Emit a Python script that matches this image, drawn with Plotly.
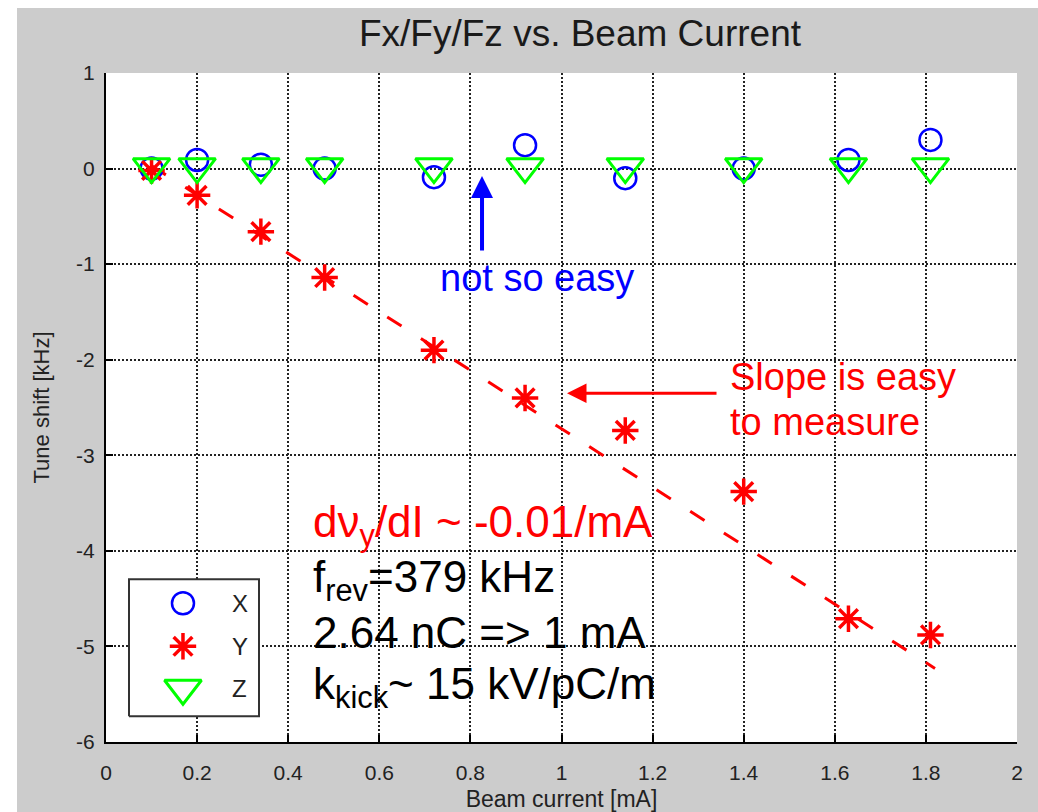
import plotly.graph_objects as go

# ---- data ----
current_mA = [0.10, 0.20, 0.34, 0.48, 0.72, 0.92, 1.14, 1.40, 1.63, 1.81]
shift_x = [0.00, 0.09, 0.04, 0.00, -0.09, 0.245, -0.10, 0.00, 0.09, 0.30]
shift_y = [-0.02, -0.28, -0.66, -1.14, -1.90, -2.40, -2.74, -3.38, -4.71, -4.88]
shift_z = [0.02, 0.02, 0.02, 0.02, 0.02, 0.02, 0.02, 0.02, 0.02, 0.02]
fit_x = [0.10, 1.82]
fit_y = [0.03, -5.23]

x_ticks = [0, 0.2, 0.4, 0.6, 0.8, 1.0, 1.2, 1.4, 1.6, 1.8, 2.0]
x_tick_text = ["0", "0.2", "0.4", "0.6", "0.8", "1", "1.2", "1.4", "1.6", "1.8", "2"]
y_ticks = [-6, -5, -4, -3, -2, -1, 0, 1]
y_tick_text = ["-6", "-5", "-4", "-3", "-2", "-1", "0", "1"]

legend_names = ["X", "Y", "Z"]
legend_pos_y = [0.2074, 0.1431, 0.0803]   # fractions of the plot area (overlay axis)
legend_sym_x = 0.0845
legend_txt_x = 0.147
legend_box_x = [(129 - 106) / 911, (259 - 106) / 911]
legend_box_y = [(741.7 - 716) / 668.7, (741.7 - 579) / 668.7]

FONT = "Liberation Sans, Arial, Helvetica, sans-serif"
BLUE = "#0000ff"
RED = "#ff0000"
GREEN = "#00ff00"

fig = go.Figure()

fig.add_trace(go.Scatter(
    x=fit_x, y=fit_y, mode="lines",
    line=dict(color=RED, width=3, dash="17px,23px"),
    showlegend=False, hoverinfo="skip"))

fig.add_trace(go.Scatter(
    x=current_mA, y=shift_x, mode="markers", name="X",
    marker=dict(symbol="circle-open", size=22, color=BLUE,
                line=dict(color=BLUE, width=2.5)),
    showlegend=False))
fig.add_trace(go.Scatter(
    x=current_mA, y=shift_y, mode="markers", name="Y",
    marker=dict(symbol="asterisk-open", size=22, color=RED,
                line=dict(color=RED, width=3.5)),
    showlegend=False))
fig.add_trace(go.Scatter(
    x=current_mA, y=shift_z, mode="markers", name="Z",
    marker=dict(symbol="triangle-down-open", size=32, color=GREEN,
                line=dict(color=GREEN, width=3)),
    showlegend=False))

# ---- hand-drawn legend on an overlay axis spanning the plot area ----
bx0, bx1 = legend_box_x
by0, by1 = legend_box_y
fig.add_trace(go.Scatter(
    x=[bx0, bx1, bx1, bx0, bx0], y=[by0, by0, by1, by1, by0],
    mode="lines", fill="toself", fillcolor="white",
    line=dict(color="#333333", width=2),
    xaxis="x2", yaxis="y2", showlegend=False, hoverinfo="skip"))

legend_symbols = ["circle-open", "asterisk-open", "triangle-down-open"]
legend_colors = [BLUE, RED, GREEN]
legend_sizes = [22, 22, 32]
legend_widths = [2.5, 3.5, 3]
for nm, sym, col, sz, lw, yy in zip(legend_names, legend_symbols, legend_colors,
                                    legend_sizes, legend_widths, legend_pos_y):
    fig.add_trace(go.Scatter(
        x=[legend_sym_x], y=[yy], mode="markers", xaxis="x2", yaxis="y2",
        marker=dict(symbol=sym, size=sz, color=col, line=dict(color=col, width=lw)),
        showlegend=False, hoverinfo="skip"))

shapes = [
    # white strips at left and top edge of the picture
    dict(type="rect", xref="paper", yref="paper", x0=-0.2, x1=(17 - 106) / 911,
         y0=-0.2, y1=1.3, fillcolor="white", line=dict(width=0), layer="below"),
    dict(type="rect", xref="paper", yref="paper", x0=-0.2, x1=1.2,
         y0=(741.7 - 8) / 668.7, y1=1.3, fillcolor="white", line=dict(width=0), layer="below"),
]

annotations = []
for nm, yy in zip(legend_names, legend_pos_y):
    annotations.append(dict(xref="paper", yref="paper", x=legend_txt_x, y=yy,
                            text=nm, showarrow=False, xanchor="center", yanchor="middle",
                            font=dict(family=FONT, size=24, color="#222222")))

# arrows
annotations.append(dict(x=0.8255, y=-0.079, ax=0.8255, ay=-0.874, axref="x", ayref="y",
                        xref="x", yref="y", text="", showarrow=True, arrowhead=2,
                        arrowsize=1.1, arrowwidth=4, arrowcolor=BLUE, standoff=0))
annotations.append(dict(x=1.012, y=-2.351, ax=1.3436, ay=-2.351, axref="x", ayref="y",
                        xref="x", yref="y", text="", showarrow=True, arrowhead=2,
                        arrowsize=1.3, arrowwidth=3, arrowcolor=RED, standoff=0))

annotations.append(dict(x=0.946, y=-1.15, xref="x", yref="y", text="not so easy",
                        showarrow=False, xanchor="center", yanchor="middle",
                        font=dict(family=FONT, size=38, color=BLUE)))
annotations.append(dict(x=1.3655, y=-2.18, xref="x", yref="y", text="Slope is easy",
                        showarrow=False, xanchor="left", yanchor="middle",
                        font=dict(family=FONT, size=38, color=RED)))
annotations.append(dict(x=1.3655, y=-2.65, xref="x", yref="y", text="to measure",
                        showarrow=False, xanchor="left", yanchor="middle",
                        font=dict(family=FONT, size=38, color=RED)))

text_lines = [
    ("d\u03bd<sub>y</sub>/dI ~ -0.01/mA", RED, -3.73),
    ("f<sub>rev</sub>=379 kHz", "black", -4.31),
    ("2.64 nC =&gt; 1 mA", "black", -4.85),
    ("k<sub>kick</sub>~ 15 kV/pC/m", "black", -5.42),
]
for txt, col, yy in text_lines:
    annotations.append(dict(x=0.450, y=yy, xref="x", yref="y", text=txt,
                            showarrow=False, xanchor="left", yanchor="middle",
                            font=dict(family=FONT, size=44, color=col)))

axis_common = dict(
    showgrid=True, gridcolor="#222222", gridwidth=1.5, griddash="2px,2px",
    zeroline=False, showline=True, linecolor="black", linewidth=2,
    ticks="inside", ticklen=7, tickwidth=1.5, tickcolor="black",
    tickfont=dict(family=FONT, size=21, color="#222222"), mirror=False,
    automargin=False,
)

fig.update_layout(
    width=1038, height=812,
    margin=dict(l=106, r=21, t=73, b=70),
    paper_bgcolor="#cccccc", plot_bgcolor="white",
    title=dict(text="Fx/Fy/Fz vs. Beam Current", x=580 / 1038, xref="container",
               xanchor="center", y=1 - 33 / 812, yanchor="middle",
               font=dict(family=FONT, size=37, color="#1a1a1a")),
    xaxis=dict(range=[0, 2], tickvals=x_ticks, ticktext=x_tick_text,
               title=dict(text="Beam current [mA]", standoff=12,
                          font=dict(family=FONT, size=23, color="#222222")),
               ticklabelstandoff=11, **axis_common),
    yaxis=dict(range=[-6, 1], tickvals=y_ticks, ticktext=y_tick_text,
               title=dict(text="Tune shift [kHz]", standoff=20,
                          font=dict(family=FONT, size=22, color="#222222")),
               ticklabelstandoff=5, **axis_common),
    xaxis2=dict(overlaying="x", range=[0, 1], visible=False, fixedrange=True),
    yaxis2=dict(overlaying="y", range=[0, 1], visible=False, fixedrange=True),
    shapes=shapes, annotations=annotations,
    showlegend=False,
)

fig.write_html("out.html")
